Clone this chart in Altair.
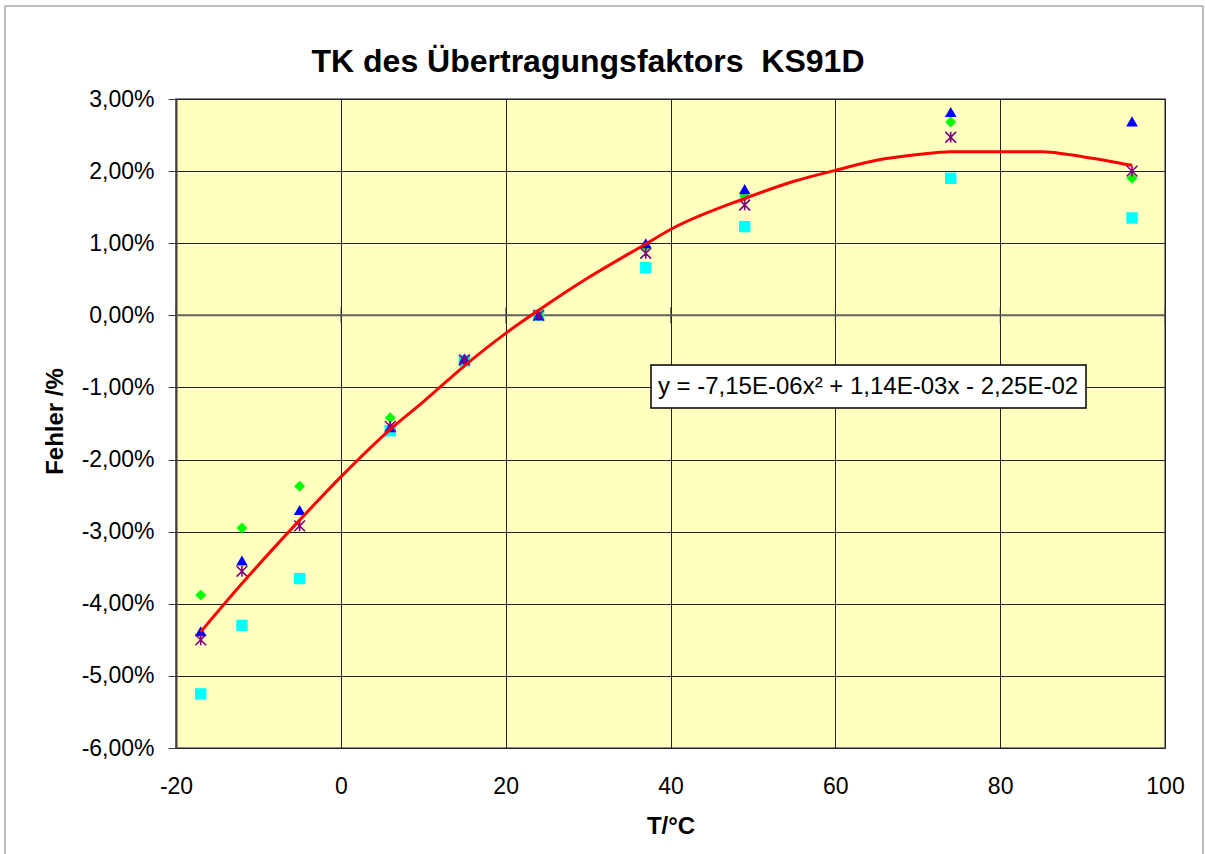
import altair as alt
import pandas as pd

# ---- data ----
T = [-17, -12, -5, 6, 15, 24, 37, 49, 74, 96]
green_diamond = [-3.88, -2.95, -2.37, -1.42, -0.62, 0.0, 0.95, 1.65, 2.68, 1.90]
blue_triangle = [-4.38, -3.40, -2.70, -1.55, -0.60, 0.0, 1.00, 1.75, 2.82, 2.69]
cyan_square = [-5.25, -4.30, -3.65, -1.60, -0.63, 0.0, 0.66, 1.23, 1.90, 1.35]
purple_star = [-4.50, -3.55, -2.92, -1.54, -0.62, 0.0, 0.86, 1.53, 2.47, 2.00]

trend_T = [-17, -12, -5, 0, 6, 10, 15, 20, 24, 30, 37, 40, 49, 55, 60, 65, 70, 74, 80, 85, 90, 96]
trend_val = [-4.39, -3.72, -2.84, -2.24, -1.58, -1.20, -0.70, -0.25, 0.07, 0.52, 0.99,
             1.19, 1.62, 1.86, 2.01, 2.15, 2.23, 2.27, 2.27, 2.27, 2.20, 2.08]

x_ticks = [-20, 0, 20, 40, 60, 80, 100]
y_ticks = [-6, -5, -4, -3, -2, -1, 0, 1, 2, 3]

title_text = "TK des Übertragungsfaktors \u00a0KS91D"
equation_text = "y = -7,15E-06x² + 1,14E-03x - 2,25E-02"

FONT = "Liberation Sans"
W, H = 989, 649

x_scale = alt.Scale(domain=[-20, 100], nice=False, zero=False)
y_scale = alt.Scale(domain=[-6, 3], nice=False, zero=False)

x_axis = alt.Axis(values=x_ticks, grid=True, gridColor="#222222", gridWidth=1,
                  ticks=False, domain=False, labelPadding=27, labelFontSize=23,
                  labelFont=FONT, labelColor="#000000", labelFlush=False,
                  labelExpr="replace(format(datum.value, 'd'), '\u2212', '-')",
                  title="T/°C", titleFont=FONT, titleFontSize=24, titleFontWeight="bold",
                  titleBaseline="alphabetic", titleY=85, titleColor="#000000")
y_axis = alt.Axis(values=y_ticks, grid=True, gridColor="#222222", gridWidth=1,
                  tickSize=8, tickColor="#404040", tickWidth=1,
                  domain=True, domainColor="#404040", domainWidth=2,
                  labelPadding=14, labelFontSize=23, labelFont=FONT, labelColor="#000000",
                  labelFlush=False,
                  labelExpr="replace(replace(format(datum.value, '.2f'), '.', ','), '\u2212', '-') + '%'",
                  title="Fehler /%", titleFont=FONT, titleFontSize=24, titleFontWeight="bold",
                  titleAngle=270, titleAlign="center", titleBaseline="alphabetic",
                  titleX=-114, titleY=322, titleColor="#000000")

X = alt.X("T:Q", scale=x_scale, axis=x_axis)
Y = alt.Y("v:Q", scale=y_scale, axis=y_axis)


def series(vals):
    return pd.DataFrame({"T": T, "v": vals})


def pts(vals, shape, color, size, filled=True, sw=1):
    mk = alt.Chart(series(vals)).mark_point(shape=shape, filled=filled, size=size,
                                            color=color, opacity=1, strokeWidth=sw)
    return mk.encode(x=X, y=Y)


square = pts(cyan_square, "square", "#00FFFF", 130)
diamond = pts(green_diamond, "diamond", "#00FF00", 120)
triangle = pts(blue_triangle, "triangle-up", "#0000FF", 135)
star = pts(purple_star, "M-1,-1L1,1M-1,1L1,-1M0,-1L0,1", "#800080", 115, filled=False, sw=1.6)

zero_line = alt.Chart(pd.DataFrame({"T": [-20, 100], "v": [0, 0]})).mark_line(
    color="#606060", strokeWidth=2).encode(x=X, y=Y)
zero_ticks = alt.Chart(pd.DataFrame({"T": x_ticks, "v": [0] * len(x_ticks)})).mark_tick(
    color="#404040", orient="vertical", size=16, thickness=1).encode(x=X, y=Y)

trend = alt.Chart(pd.DataFrame({"T": trend_T, "v": trend_val})).mark_line(
    color="#FF0000", strokeWidth=3, interpolate="monotone").encode(x=X, y=Y)

one = alt.Data(values=[{"a": 1}])
eq_box = alt.Chart(one).mark_rect(fill="#FFFFFF", stroke="#000000", strokeWidth=1.5).encode(
    x=alt.value(475), x2=alt.value(910), y=alt.value(266), y2=alt.value(309))
eq_text = alt.Chart(one).mark_text(text=equation_text, font=FONT, fontSize=24,
                                   align="center", baseline="middle", color="#000000").encode(
    x=alt.value(692), y=alt.value(288))
title = alt.Chart(one).mark_text(text=title_text, font=FONT, fontSize=32, fontWeight="bold",
                                 align="center", baseline="middle", color="#000000").encode(
    x=alt.value(412), y=alt.value(-37))
frame = alt.Chart(one).mark_rect(filled=False, stroke="#808080", strokeWidth=1).encode(
    x=alt.value(-171), x2=alt.value(1027), y=alt.value(-93), y2=alt.value(760))

chart = alt.layer(frame, zero_line, zero_ticks, square, diamond, triangle, star, trend,
                  eq_box, eq_text, title).properties(
    width=W, height=H,
    autosize=alt.AutoSizeParams(type="none"),
    padding={"left": 176, "top": 99, "right": 40, "bottom": 106},
    background="#FFFFFF",
).configure_view(fill="#FFFFC0", stroke="#8C8C8C", strokeWidth=2)

chart.save("out.html", embed_options={"renderer": "svg", "actions": False})
